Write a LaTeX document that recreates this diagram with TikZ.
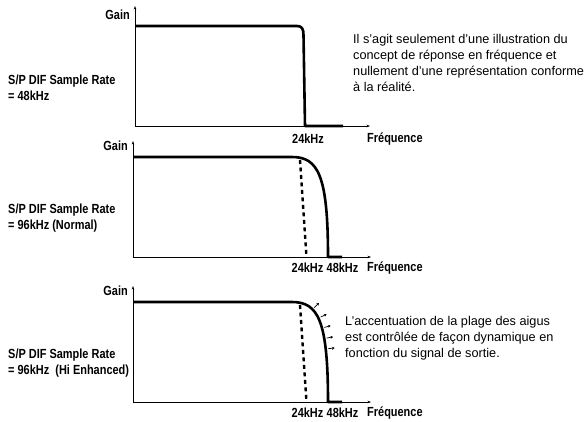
\documentclass[tikz,border=0pt]{standalone}
\usepackage{fontspec}
\setmainfont{Liberation Sans}
\newfontfamily\labelfont{Liberation Sans}[FakeStretch=0.83]
\usetikzlibrary{arrows.meta,decorations.markings}
\tikzset{axis/.style={line width=0.8pt,
        {Stealth[length=3.5pt,width=2.6pt]}-{Stealth[length=3.5pt,width=2.6pt]}},
    resp/.style={line width=2.6pt, line join=round},
    cutoff/.style={line width=2.4pt, dash pattern=on 4pt off 3.5pt},
    lbl/.style={font=\labelfont\bfseries\fontsize{13.2}{16}\selectfont, inner sep=0pt},
    rate/.style={lbl, align=left, anchor=west},
    note/.style={font=\fontsize{12.7}{15.8}\selectfont, align=left, anchor=west, inner sep=0pt},
    }

\begin{document}
\begin{tikzpicture}[x=1pt,y=-1pt]
\useasboundingbox (0,0) rectangle (587,421);
% 48kHz: plain cut at 24kHz
\coordinate (top1) at (135,6);
\coordinate (o1) at (135,126);
\coordinate (end1) at (370,126);
\draw[axis] (top1) -- (o1) -- (end1);
\node[lbl, anchor=east] (gain1) at (130,15) {Gain};
\draw[resp] (135,26) -- (297,26) .. controls (302,26) and (303.5,29) .. (303.5,35) -- (305,126) -- (343,126);
\node[lbl] (fa1) at (308,139) {24kHz};
\node[lbl, anchor=west] (freq1) at (367,139) {Fréquence};
\node[rate] (rate1) at (8,88) {S/P DIF Sample Rate\\= 48kHz};
\node[note] (note1) at (353,63) {Il s'agit seulement d'une illustration du\\concept de réponse en fréquence et\\nullement d'une représentation conforme\\à la réalité.};
% 96kHz: normal and hi enhanced
\foreach \dy/\n/\rate in {0/2/{= 96kHz (Normal)}, 145/3/{= 96kHz\ \ (Hi Enhanced)}}{
\begin{scope}[shift={(0,\dy)}]
\coordinate (top\n) at (133,141);
\coordinate (o\n) at (133,257);
\coordinate (end\n) at (371,257);
\draw[axis] (top\n) -- (o\n) -- (end\n);
\node[lbl, anchor=east] (gain\n) at (128,146) {Gain};
\draw[cutoff] (300,160) -- (306.5,257);
\draw[resp] (133,157) -- (292,157) .. controls (318,157) and (328,175) .. (328,257) -- (342,257);
\node[lbl] (fa\n) at (307.5,268) {24kHz};
\node[lbl] (fb\n) at (342.5,268) {48kHz};
\node[lbl, anchor=west] (freq\n) at (367,268) {Fréquence};
\node[rate] (rate\n) at (8,218) {S/P DIF Sample Rate\\\rate};
\end{scope}
}
% boost arrows on the hi enhanced curve
\path[postaction={decorate}, decoration={markings,
    mark=between positions 0.19 and 0.56 step 0.09 with {\draw[line width=0.7pt, -{Stealth[length=2.6pt,width=3pt]}] (0,2.5pt) -- (0,9pt);}}]
    (292,302) .. controls (318,302) and (328,320) .. (328,402);
\node[note] (note3) at (345,338) {L'accentuation de la plage des aigus\\est contrôlée de façon dynamique en\\fonction du signal de sortie.};
\end{tikzpicture}
\end{document}
